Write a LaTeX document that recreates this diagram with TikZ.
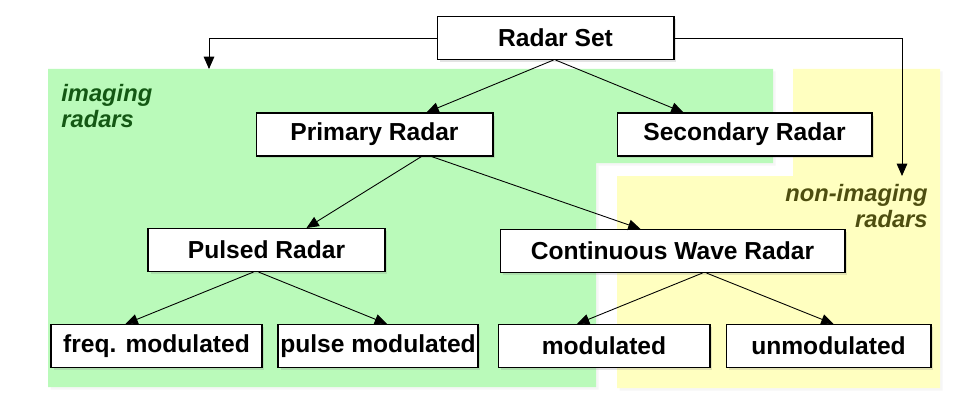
\documentclass[tikz,border=0pt]{standalone}
\usepackage{fontspec}
\setmainfont{Liberation Sans}
\usetikzlibrary{arrows.meta, shadows}
\definecolor{imggreen}{RGB}{186,250,186}
\definecolor{nonyellow}{RGB}{255,255,192}
\definecolor{imgtext}{RGB}{20,88,20}
\definecolor{nontext}{RGB}{78,78,16}

\begin{document}
\begin{tikzpicture}[x=0.02cm, y=-0.02cm,
        radarbox/.style={draw, fill=white, line width=0.6pt, minimum height=0.86cm, inner sep=0pt,
            font=\fontsize{14}{16}\selectfont\bfseries,
            drop shadow={opacity=0.22, shadow xshift=0.05cm, shadow yshift=-0.05cm}},
        region/.style={drop shadow={opacity=0.07, shadow xshift=0.05cm, shadow yshift=-0.05cm}},
        regionlabel/.style={inner sep=0pt, font=\fontsize{13.5}{15}\selectfont\bfseries\itshape},
        link/.style={-{Triangle[length=7pt,width=6pt]}, line width=0.5pt}]
        \useasboundingbox (0,0) rectangle (959,402);

        % imaging / non-imaging areas
        \fill[imggreen, region] (48,69) -- (773,69) -- (773,163) -- (596,163) -- (596,387) -- (48,387) -- cycle;
        \fill[nonyellow, region] (793,69) -- (940,69) -- (940,388) -- (617,388) -- (617,176) -- (793,176) -- cycle;

        \node[regionlabel, imgtext, align=left, anchor=north west] (imglabel) at (61,84) {imaging\\radars};
        \node[regionlabel, nontext, align=right, anchor=north east] (nonlabel) at (928,184) {non-imaging\\radars};

        \coordinate (imgtop) at (209,69);
        \coordinate (nontop) at (902,176);

        % boxes
        \node[radarbox, minimum width=4.74cm] (set) at (555.5,38) {Radar Set};
        \node[radarbox, minimum width=4.74cm] (primary) at (374.5,134.5) {Primary Radar};
        \node[radarbox, minimum width=5.1cm] (secondary) at (744.5,134.5) {Secondary Radar};
        \node[radarbox, minimum width=4.74cm] (pulsed) at (266.5,250) {Pulsed Radar};
        \node[radarbox, minimum width=6.9cm] (cw) at (672.5,251) {Continuous Wave Radar};
        \node[radarbox, minimum width=4.22cm] (freqmod) at (156.5,346) {freq. modulated};
        \node[radarbox, minimum width=4.0cm] (pulsemod) at (378,346) {pulse modulated};
        \node[radarbox, minimum width=4.24cm] (cwmod) at (604,346) {modulated};
        \node[radarbox, minimum width=4.1cm] (cwunmod) at (828.5,346) {unmodulated};

        % connectors
        \draw[link] (set.west) -| (imgtop);
        \draw[link] (set.east) -| (nontop);
        \draw[link] ([xshift=-0.04cm]set.south) -- ([xshift=1.04cm]primary.north);
        \draw[link] (set.south) -- ([xshift=-1.22cm]secondary.north);
        \draw[link] ([xshift=0.94cm]primary.south) -- ([xshift=0.8cm]pulsed.north);
        \draw[link] ([xshift=1.14cm]primary.south) -- ([xshift=-0.64cm]cw.north);
        \draw[link] ([xshift=-0.26cm]pulsed.south) -- ([xshift=-0.62cm]freqmod.north);
        \draw[link] ([xshift=-0.16cm]pulsed.south) -- ([xshift=0.18cm]pulsemod.north);
        \draw[link] ([xshift=0.6cm]cw.south) -- ([xshift=-0.54cm]cwmod.north);
        \draw[link] ([xshift=0.68cm]cw.south) -- ([xshift=0.1cm]cwunmod.north);
    \end{tikzpicture}
\end{document}
